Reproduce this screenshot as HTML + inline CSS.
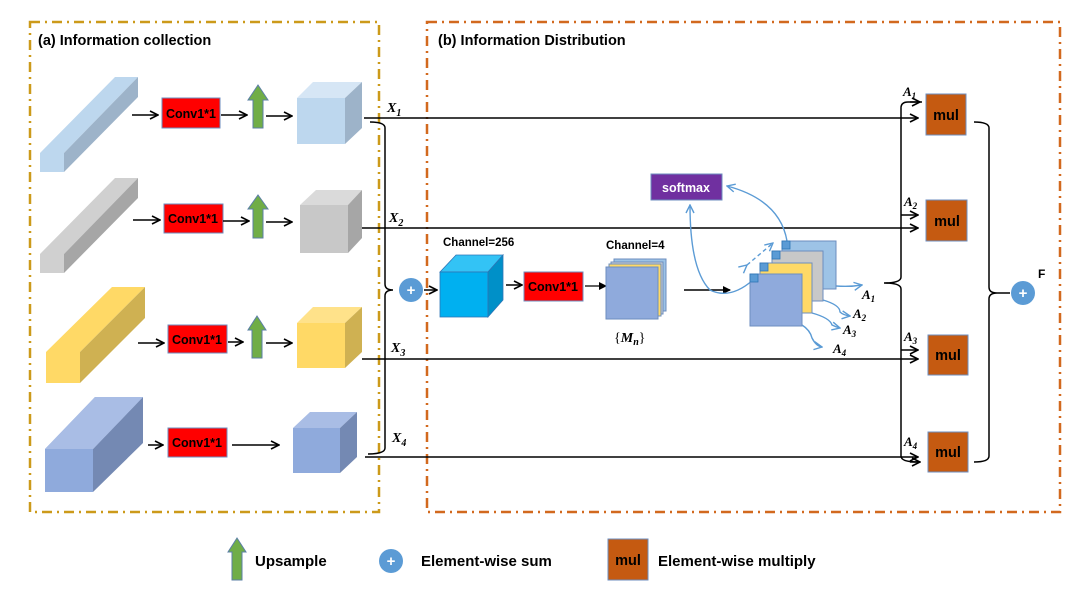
<!DOCTYPE html>
<html><head><meta charset="utf-8"><style>html,body{margin:0;padding:0;background:#fff}svg{display:block}</style></head>
<body>
<svg width="1080" height="594" viewBox="0 0 1080 594" xmlns="http://www.w3.org/2000/svg" font-family="Liberation Sans, sans-serif">
<defs>
<marker id="ar" markerWidth="10" markerHeight="10" refX="9" refY="5" orient="auto" markerUnits="userSpaceOnUse"><path d="M1,1 L9,5 L1,9" fill="none" stroke="#000" stroke-width="1.6"/></marker>
<marker id="ab" markerWidth="10" markerHeight="10" refX="9" refY="5" orient="auto" markerUnits="userSpaceOnUse"><path d="M1,1 L9,5 L1,9" fill="none" stroke="#5B9BD5" stroke-width="1.4"/></marker>
<marker id="af" markerWidth="8" markerHeight="8" refX="7" refY="4" orient="auto" markerUnits="userSpaceOnUse"><path d="M0,0 L8,4 L0,8z" fill="#000"/></marker>
</defs>
<!-- boxes -->
<rect x="30" y="22" width="349" height="490" fill="none" stroke="#CC9A1A" stroke-width="2.5" stroke-dasharray="10,5,2,5"/>
<rect x="427" y="22" width="633" height="490" fill="none" stroke="#D2691E" stroke-width="2.5" stroke-dasharray="10,5,2,5"/>
<text x="38" y="45" font-size="14.5" font-weight="bold">(a) Information collection</text>
<text x="438" y="45" font-size="14.5" font-weight="bold">(b) Information Distribution</text>

<!-- bars -->
<polygon points="40,172 40,153 115,77 138,77 64,153 64,172" fill="#BDD7EE"/>
<polygon points="64,153 138,77 138,97 64,172" fill="#9DB3C9"/>
<polygon points="40,273 40,254 115,178 138,178 64,254 64,273" fill="#D0D0D0"/>
<polygon points="64,254 138,178 138,198 64,273" fill="#A6A6A6"/>
<polygon points="46,383 46,352 112,287 145,287 80,352 80,383" fill="#FFD966"/>
<polygon points="80,352 145,287 145,318 80,383" fill="#CFB152"/>
<polygon points="45,492 45,449 95,397 143,397 93,449 93,492" fill="#8FAADC"/>
<polygon points="93,449 143,397 143,443 93,492" fill="#7489B3"/>
<polygon points="45,449 95,397 143,397 93,449" fill="#A9BDE5"/>

<!-- conv boxes -->
<g stroke="#6C8EBF" stroke-width="1" fill="#FF0000">
<rect x="162" y="98" width="58" height="30"/>
<rect x="164" y="204" width="59" height="29"/>
<rect x="168" y="325" width="59" height="28"/>
<rect x="168" y="428" width="59" height="29"/>
<rect x="524" y="272" width="59" height="29"/>
</g>
<g font-size="12.5" font-weight="bold" text-anchor="middle">
<text x="191" y="118">Conv1*1</text>
<text x="193" y="223">Conv1*1</text>
<text x="197" y="344">Conv1*1</text>
<text x="197" y="447">Conv1*1</text>
<text x="553" y="291">Conv1*1</text>
</g>

<!-- arrows left -->
<g stroke="#000" stroke-width="1.5" marker-end="url(#ar)">
<line x1="132" y1="115" x2="158" y2="115"/><line x1="221" y1="115" x2="247" y2="115"/><line x1="266" y1="116" x2="292" y2="116"/>
<line x1="133" y1="220" x2="160" y2="220"/><line x1="223" y1="221" x2="249" y2="221"/><line x1="266" y1="222" x2="292" y2="222"/>
<line x1="138" y1="343" x2="164" y2="343"/><line x1="228" y1="342" x2="243" y2="342"/><line x1="266" y1="343" x2="292" y2="343"/>
<line x1="148" y1="445" x2="163" y2="445"/><line x1="232" y1="445" x2="279" y2="445"/>
</g>
<!-- upsample arrows -->
<g fill="#70AD47" stroke="#5B7FA6" stroke-width="1">
<polygon points="253,128 253,100 248,100 258,85 268,100 263,100 263,128"/>
<polygon points="253,238 253,209 248,209 258,195 268,209 263,209 263,238"/>
<polygon points="252,358 252,330 248,330 257,316 266,330 262,330 262,358"/>
<polygon points="232,580 232,552 228,552 237,538 246,552 242,552 242,580"/>
</g>

<!-- cubes -->
<polygon points="297,98 313,82 362,82 345,98" fill="#D6E6F5"/><rect x="297" y="98" width="48" height="46" fill="#BDD7EE"/><polygon points="345,98 362,82 362,128 345,144" fill="#9DB3C9"/>
<polygon points="300,205 316,190 362,190 348,205" fill="#DADADA"/><rect x="300" y="205" width="48" height="48" fill="#C8C8C8"/><polygon points="348,205 362,190 362,238 348,253" fill="#A6A6A6"/>
<polygon points="297,323 313,307 362,307 345,323" fill="#FFE28A"/><rect x="297" y="323" width="48" height="45" fill="#FFD966"/><polygon points="345,323 362,307 362,352 345,368" fill="#CFB152"/>
<polygon points="293,428 310,412 357,412 340,428" fill="#A9BDE5"/><rect x="293" y="428" width="47" height="45" fill="#8FAADC"/><polygon points="340,428 357,412 357,457 340,473" fill="#7489B3"/>

<!-- X lines -->
<g stroke="#000" stroke-width="1.5">
<line x1="364" y1="118" x2="918" y2="118" marker-end="url(#ar)"/>
<line x1="362" y1="228" x2="918" y2="228" marker-end="url(#ar)"/>
<line x1="362" y1="359" x2="918" y2="359" marker-end="url(#ar)"/>
<line x1="365" y1="457" x2="918" y2="457" marker-end="url(#ar)"/>
</g>
<g font-family="Liberation Serif, serif" font-style="italic" font-weight="bold" font-size="14">
<text x="387" y="112">X<tspan font-size="10" dy="4">1</tspan></text>
<text x="389" y="222">X<tspan font-size="10" dy="4">2</tspan></text>
<text x="391" y="352">X<tspan font-size="10" dy="4">3</tspan></text>
<text x="392" y="442">X<tspan font-size="10" dy="4">4</tspan></text>
</g>
<!-- left brace -->
<path d="M370,122 Q385,122 385,128 L385,284 Q385,290 393,290 M393,290 Q385,290 385,296 L385,448 Q385,454 368,454" fill="none" stroke="#000" stroke-width="1.5"/>
<circle cx="411" cy="290" r="12" fill="#5B9BD5"/><text x="411" y="295" fill="#fff" font-size="15" text-anchor="middle" font-weight="bold">+</text>
<line x1="424" y1="290" x2="437" y2="290" stroke="#000" stroke-width="1.5" marker-end="url(#ar)"/>

<!-- 256 cube -->
<text x="443" y="246" font-size="11.5" font-weight="bold">Channel=256</text>
<polygon points="440,272 456,255 503,255 488,272" fill="#33C3F5" stroke="#2E75B6" stroke-width="0.8"/>
<rect x="440" y="272" width="48" height="45" fill="#00B0F0" stroke="#2E75B6" stroke-width="0.8"/>
<polygon points="488,272 503,255 503,300 488,317" fill="#0090C8" stroke="#2E75B6" stroke-width="0.8"/>
<line x1="506" y1="285" x2="522" y2="285" stroke="#000" stroke-width="1.5" marker-end="url(#ar)"/>
<line x1="585" y1="286" x2="606" y2="286" stroke="#000" stroke-width="1.2" marker-end="url(#af)"/>

<!-- Mn stack -->
<text x="606" y="249" font-size="11.5" font-weight="bold">Channel=4</text>
<rect x="614" y="259" width="52" height="52" fill="#9DC3E6" stroke="#6C8EBF"/>
<rect x="611" y="262" width="52" height="52" fill="#D0D0D0" stroke="#6C8EBF"/>
<rect x="609" y="264" width="52" height="52" fill="#FFD966" stroke="#6C8EBF"/>
<rect x="606" y="267" width="52" height="52" fill="#8FAADC" stroke="#6C8EBF"/>
<text x="614" y="342" font-family="Liberation Serif, serif" font-size="14">{<tspan font-style="italic" font-weight="bold">M</tspan><tspan font-style="italic" font-weight="bold" font-size="10" dy="3">n</tspan><tspan dy="-3">}</tspan></text>
<line x1="684" y1="290" x2="730" y2="290" stroke="#000" stroke-width="1.5" marker-end="url(#af)"/>

<!-- softmax -->
<rect x="651" y="174" width="71" height="26" fill="#7030A0" stroke="#6C8EBF"/>
<text x="686" y="192" fill="#fff" font-size="12.5" font-weight="bold" text-anchor="middle">softmax</text>
<g fill="none" stroke="#5B9BD5" stroke-width="1.4">
<path d="M787,241 Q780,200 727,186" marker-end="url(#ab)"/>
<path d="M753,280 Q730,300 710,290 Q690,270 690,205" marker-end="url(#ab)"/>
<path d="M747,265 L773,243" stroke-dasharray="4,3" marker-end="url(#ab)" marker-start="url(#ab)"/>
<path d="M836,286 Q850,287 862,285" marker-end="url(#ab)"/>
<path d="M823,300 Q840,305 840,312 Q843,315 850,316" marker-end="url(#ab)"/>
<path d="M812,313 Q830,318 832,325 Q836,327 840,328" marker-end="url(#ab)"/>
<path d="M802,325 Q810,330 812,338 Q816,346 822,347" marker-end="url(#ab)"/>
</g>
<rect x="782" y="241" width="54" height="48" fill="#9DC3E6" stroke="#6C8EBF"/>
<rect x="772" y="251" width="51" height="50" fill="#C8C8C8" stroke="#6C8EBF"/>
<rect x="760" y="263" width="52" height="50" fill="#FFD966" stroke="#6C8EBF"/>
<rect x="750" y="274" width="52" height="52" fill="#8FAADC" stroke="#6C8EBF"/>
<g fill="#5B9BD5" stroke="#2E75B6" stroke-width="0.8">
<rect x="782" y="241" width="8" height="8"/><rect x="772" y="251" width="8" height="8"/><rect x="760" y="263" width="8" height="8"/><rect x="750" y="274" width="8" height="8"/>
</g>
<g font-family="Liberation Serif, serif" font-style="italic" font-weight="bold" font-size="13">
<text x="862" y="299">A<tspan font-size="9" dy="3">1</tspan></text>
<text x="853" y="318">A<tspan font-size="9" dy="3">2</tspan></text>
<text x="843" y="334">A<tspan font-size="9" dy="3">3</tspan></text>
<text x="833" y="353">A<tspan font-size="9" dy="3">4</tspan></text>
<text x="903" y="96">A<tspan font-size="9" dy="3">1</tspan></text>
<text x="904" y="206">A<tspan font-size="9" dy="3">2</tspan></text>
<text x="904" y="341">A<tspan font-size="9" dy="3">3</tspan></text>
<text x="904" y="446">A<tspan font-size="9" dy="3">4</tspan></text>
</g>

<!-- right brace A distribution -->
<path d="M922,102 L908,102 Q901,102 901,108 L901,277 Q901,283 884,283 M884,283 Q901,283 901,289 L901,456 Q901,462 918,462" fill="none" stroke="#000" stroke-width="1.5"/>
<g stroke="#000" stroke-width="1.5" marker-end="url(#ar)">
<line x1="910" y1="102" x2="920" y2="102"/>
<line x1="901" y1="215" x2="918" y2="215"/>
<line x1="901" y1="350" x2="918" y2="350"/>
<line x1="910" y1="462" x2="920" y2="462"/>
</g>
<!-- mul -->
<g fill="#C55A11" stroke="#6C8EBF" stroke-width="1">
<rect x="926" y="94" width="40" height="41"/><rect x="926" y="200" width="41" height="41"/><rect x="928" y="335" width="40" height="40"/><rect x="928" y="432" width="40" height="40"/>
<rect x="608" y="539" width="40" height="41"/>
</g>
<g font-size="14.5" font-weight="bold" text-anchor="middle">
<text x="946" y="120">mul</text><text x="947" y="226">mul</text><text x="948" y="360">mul</text><text x="948" y="457">mul</text><text x="628" y="565">mul</text>
</g>
<path d="M974,122 Q989,122 989,128 L989,287 Q989,293 997,293 M997,293 Q989,293 989,299 L989,456 Q989,462 974,462" fill="none" stroke="#000" stroke-width="1.5"/>
<line x1="997" y1="293" x2="1010" y2="293" stroke="#000" stroke-width="1.5"/>
<circle cx="1023" cy="293" r="12" fill="#5B9BD5"/><text x="1023" y="298" fill="#fff" font-size="15" text-anchor="middle" font-weight="bold">+</text>
<text x="1038" y="278" font-size="12" font-weight="bold">F</text>

<!-- legend -->
<text x="255" y="566" font-size="15" font-weight="bold">Upsample</text>
<circle cx="391" cy="561" r="12" fill="#5B9BD5"/><text x="391" y="566" fill="#fff" font-size="15" text-anchor="middle" font-weight="bold">+</text>
<text x="421" y="566" font-size="15" font-weight="bold">Element-wise sum</text>
<text x="658" y="566" font-size="15" font-weight="bold">Element-wise multiply</text>
</svg>
</body></html>
